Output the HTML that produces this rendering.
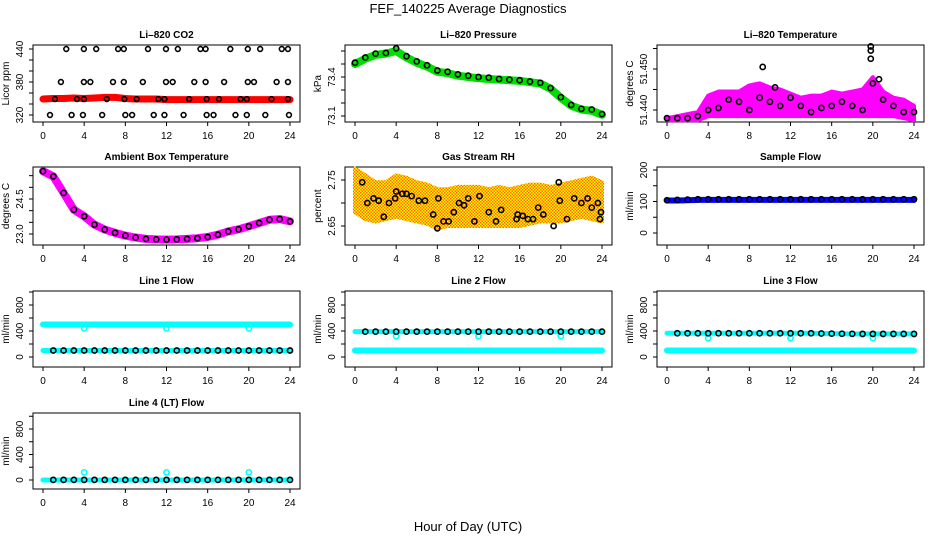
<!DOCTYPE html>
<html><head><meta charset="utf-8"><style>
body{margin:0;background:#fff}
svg text{font-family:"Liberation Sans",sans-serif;fill:#000}
</style></head><body>
<svg id="c" width="936" height="540" viewBox="0 0 936 540">
<defs>
<pattern id="rhpat" width="3" height="3" patternUnits="userSpaceOnUse"><rect width="3" height="3" fill="#ffff00"/><rect width="1.5" height="1.5" fill="#ff6a00"/><rect x="1.5" y="1.5" width="1.5" height="1.5" fill="#ff6a00"/></pattern>
</defs>
<text x="468" y="13" font-size="13" text-anchor="middle">FEF_140225  Average Diagnostics</text>
<text x="468" y="531" font-size="13" text-anchor="middle">Hour of Day (UTC)</text>
</svg>
<script>
const HOURS=[0,1,2,3,4,5,6,7,8,9,10,11,12,13,14,15,16,17,18,19,20,21,22,23,24];
const XTICKS=[0,4,8,12,16,20,24];
// CO2
const co2Red=[349,350,350,351,350,351,352,352,350,349,349,349,348,348,348,348,348,348,348,348,348,348,348,348,348];
const co2BlkH=[2.26,3.97,5.17,7.3,7.85,10.2,11.95,13.1,15.3,15.8,18.2,19.9,21.1,23.2,23.8,1.74,3.97,4.6,6.8,7.85,9.7,11.95,12.6,14.7,15.8,17.6,19.9,20.5,22.7,23.8,0.68,2.78,3.88,5.75,8.0,8.66,10.76,11.8,13.66,15.9,16.57,18.7,19.8,21.6,23.9,1.16,3.3,3.97,6.2,7.9,9.1,11.2,11.8,14.2,15.9,17.1,19.2,19.8,22.2,23.8];
const co2BlkV=[440,440,440,440,440,440,440,440,440,440,440,440,440,440,440,380,380,380,380,380,380,380,380,380,380,380,380,380,380,380,320,320,320,320,320,320,320,320,320,320,320,320,320,320,320,349,349,349,349,349,349,349,349,349,349,349,349,349,349,349];
// Pressure
const pressGreen=[73.50,73.54,73.57,73.58,73.60,73.55,73.51,73.48,73.44,73.43,73.41,73.40,73.39,73.385,73.38,73.375,73.37,73.36,73.35,73.31,73.24,73.18,73.15,73.14,73.11];
const pressBlack=[73.51,73.55,73.58,73.585,73.62,73.56,73.52,73.49,73.45,73.44,73.42,73.41,73.40,73.395,73.385,73.38,73.375,73.365,73.355,73.315,73.245,73.185,73.155,73.15,73.115];
// Li-820 temperature
const liLo=[51.4375,51.4375,51.4375,51.4375,51.4385,51.4385,51.4385,51.4385,51.4385,51.4385,51.4385,51.4385,51.4385,51.4385,51.4385,51.4385,51.4385,51.4385,51.4385,51.4385,51.4385,51.4385,51.4385,51.438,51.4375];
const liHi=[51.438,51.4385,51.439,51.4395,51.4435,51.4445,51.4445,51.4445,51.446,51.4465,51.4455,51.445,51.444,51.443,51.4435,51.4435,51.4445,51.444,51.4445,51.445,51.448,51.4445,51.443,51.4425,51.441];
const liBlack=[51.438,51.438,51.438,51.4385,51.440,51.4405,51.4425,51.442,51.440,51.443,51.442,51.441,51.443,51.441,51.4395,51.4405,51.441,51.442,51.441,51.440,51.4465,51.4425,51.441,51.4395,51.4395];
const liOutH=[19.8,19.8,19.8,20.6,9.3,10.5];
const liOutV=[51.4555,51.4545,51.4525,51.4475,51.4505,51.4455];
// Ambient
const ambient=[25.69,25.47,24.76,24.04,23.76,23.40,23.19,23.05,22.93,22.85,22.79,22.77,22.76,22.77,22.79,22.82,22.87,22.97,23.11,23.20,23.33,23.47,23.61,23.64,23.54];
// RH
const rhLo=[2.68,2.665,2.66,2.665,2.67,2.665,2.66,2.655,2.645,2.65,2.65,2.65,2.65,2.65,2.65,2.65,2.65,2.655,2.66,2.66,2.66,2.665,2.67,2.665,2.66];
const rhHi=[2.775,2.76,2.745,2.745,2.76,2.755,2.745,2.74,2.73,2.73,2.735,2.735,2.735,2.73,2.735,2.73,2.735,2.74,2.74,2.735,2.74,2.745,2.75,2.755,2.745];
const rhBlkH=[0.7,1.2,1.8,2.3,2.8,3.3,3.9,4.0,4.6,5.0,5.5,6.2,6.8,7.6,8.0,8.1,8.6,9.1,9.6,10.1,10.6,11.0,11.6,12.1,13.0,13.7,14.2,15.7,15.8,16.3,16.8,17.3,17.8,18.3,19.3,19.8,19.9,20.6,21.3,22.0,22.6,23.0,23.6,23.8,23.9];
const rhBlkV=[2.745,2.70,2.71,2.705,2.67,2.70,2.71,2.725,2.72,2.72,2.715,2.705,2.705,2.675,2.645,2.71,2.66,2.66,2.68,2.70,2.695,2.71,2.66,2.715,2.68,2.66,2.685,2.665,2.675,2.672,2.665,2.665,2.69,2.675,2.65,2.745,2.705,2.665,2.71,2.70,2.71,2.69,2.70,2.665,2.68];
// Sample flow
const sampleBlue=[103,103,104,105,105,105,105,105,105,105,105,105,105,105,105,105,105,105,105,105,105,105,105,105,105];
const sampleBlack=[104,105,106,107,107,107,107,107,107,107,107,107,107,107,107,107,107,107,107,107,107,107,107,107,107];
// Flows
const l1Cyan=[500,500,500,500,500,500,500,500,500,500,500,500,500,500,500,500,500,500,500,500,500,500,500,500,500];
const l1Black=[100,100,100,100,100,100,100,100,100,100,100,100,100,100,100,100,100,100,100,100,100,100,100,100,100];
const l2Cyan=[100,100,100,100,100,100,100,100,100,100,100,100,100,100,100,100,100,100,100,100,100,100,100,100,100];
const l2Black=[390,390,390,390,390,390,390,390,390,390,390,390,390,390,390,390,390,390,390,390,390,390,390,390,390];
const l3Cyan=[100,100,100,100,100,100,100,100,100,100,100,100,100,100,100,100,100,100,100,100,100,100,100,100,100];
const l3Black=[365,365,365,365,365,365,365,365,365,365,365,365,365,365,365,362,360,358,356,355,355,355,355,355,355];
const l4Cyan=[0,0,0,0,0,0,0,0,0,0,0,0,0,0,0,0,0,0,0,0,0,0,0,0,0];
const l4Black=[2,2,2,2,2,2,2,2,2,2,2,2,2,2,2,2,2,2,2,2,2,2,2,2,2];
const dipH=[4,12,20];
const l1Dip=[440,440,440];
const l2Dip=[320,320,320];
const l3Dip=[290,290,290];
const l4Dip=[120,120,120];

const svg=document.getElementById('c');
const NS='http://www.w3.org/2000/svg';
function mk(tag,attrs,parent){const e=document.createElementNS(NS,tag);for(const k in attrs)e.setAttribute(k,attrs[k]);(parent||svg).appendChild(e);return e;}

const COLS=[{l:33,r:300,x0:43,x24:290,yl:9,tl:23},{l:345,r:612,x0:355,x24:602,yl:321,tl:335},{l:657,r:924,x0:667,x24:914,yl:633,tl:647}];
const ROWS=[{t:45,b:122},{t:167,b:245},{t:291,b:367},{t:413,b:489}];

function panel(name,title,col,row,v0,p0,v1,p1,ticks,labels,ylab){
  const C=COLS[col],R=ROWS[row];
  const g=mk('g',{});
  
  
  const sx=h=>C.x0+(C.x24-C.x0)*h/24;
  const sy=v=>p0+(p1-p0)*(v-v0)/(v1-v0);
  const t=mk('text',{x:(C.l+C.r)/2,y:R.t-7,'font-size':10,'font-weight':'bold','text-anchor':'middle'},g);
  t.textContent=title;
  
  
  const box=mk('rect',{x:C.l,y:R.t,width:C.r-C.l,height:R.b-R.t,fill:'none',stroke:'#000','stroke-width':1},g);
  
  
  const xa=mk('g',{},g);
  
  
  XTICKS.forEach(h=>{
    mk('line',{x1:sx(h),x2:sx(h),y1:R.b,y2:R.b+4,stroke:'#000'},xa);
    const tx=mk('text',{x:sx(h),y:R.b+17,'font-size':10,'text-anchor':'middle'},xa);
    tx.textContent=h;
  });
  const ya=mk('g',{},g);
  
  
  ticks.forEach(v=>mk('line',{x1:C.l-4,x2:C.l,y1:sy(v),y2:sy(v),stroke:'#000'},ya));
  labels.forEach(v=>{
    const y=sy(parseFloat(v));
    const tx=mk('text',{x:C.tl,y:y,'font-size':10,'text-anchor':'middle',transform:`rotate(-90 ${C.tl} ${y})`},ya);
    tx.textContent=v;
  });
  const yl=mk('text',{x:C.yl,y:(R.t+R.b)/2,'font-size':10,'text-anchor':'middle',transform:`rotate(-90 ${C.yl} ${(R.t+R.b)/2})`},g);
  yl.textContent=ylab;
  
  
  return {g,sx,sy};
}
function band(P,vals,color,w,name){
  const pl=mk('polyline',{points:HOURS.map((h,i)=>P.sx(h)+','+P.sy(vals[i])).join(' '),fill:'none',stroke:color,'stroke-width':w,'stroke-linecap':'round','stroke-linejoin':'round'},P.g);
  
  
}
function area(P,lo,hi,fill,name){
  const pts=HOURS.map((h,i)=>P.sx(h)+','+P.sy(hi[i])).concat(HOURS.slice().reverse().map((h,j)=>P.sx(h)+','+P.sy(lo[HOURS.length-1-j])));
  const pg=mk('polygon',{points:pts.join(' '),fill:fill,stroke:fill,'stroke-width':4,'stroke-linejoin':'round'},P.g);
  
  
}
function pts(P,hs,vs,color,name,r){
  const g=mk('g',{},P.g);
  
  
  hs.forEach((h,i)=>{
    const c=mk('circle',{cx:P.sx(h),cy:P.sy(vs[i]),r:r||2.6,fill:'none',stroke:color,'stroke-width':1.6},g);
    
    
  });
}
const R10=[0,200,400,600,800,1000];
let P;
P=panel('co2-panel','Li\u2013820 CO2',0,0,320,115,440,49,[320,340,360,380,400,420,440],['320','380','440'],'Licor ppm');
band(P,co2Red,'#ff0000',7,'co2-red-series');pts(P,co2BlkH,co2BlkV,'#000','co2-black-series',2.4);
P=panel('pressure-panel','Li\u2013820 Pressure',1,0,73.1,116,73.6,51,[73.1,73.2,73.3,73.4,73.5,73.6],['73.1','73.4'],'kPa');
band(P,pressGreen,'#00e000',8,'pressure-green-series');pts(P,HOURS,pressBlack,'#000','pressure-black-series');
P=panel('li-temp-panel','Li\u2013820 Temperature',2,0,51.44,110,51.45,69,[51.44,51.445,51.45,51.455],['51.440','51.450'],'degrees C');
area(P,liLo,liHi,'#ff00ff','li-temp-magenta-series');pts(P,HOURS,liBlack,'#000','li-temp-black-series');pts(P,liOutH,liOutV,'#000','li-temp-outliers');
P=panel('ambient-panel','Ambient Box Temperature',0,1,23.0,234,24.5,199,[23,23.5,24,24.5,25,25.5],['23.0','24.5'],'degrees C');
band(P,ambient,'#ff00ff',8,'ambient-magenta-series');pts(P,HOURS,ambient,'#000','ambient-black-series');
P=panel('rh-panel','Gas Stream RH',1,1,2.65,226,2.75,180,[2.65,2.70,2.75],['2.65','2.75'],'percent');
area(P,rhLo,rhHi,'url(#rhpat)','rh-orange-series');pts(P,rhBlkH,rhBlkV,'#000','rh-black-series');
P=panel('sample-flow-panel','Sample Flow',2,1,0,233,200,170,[0,50,100,150,200],['0','100','200'],'ml/min');
band(P,sampleBlue,'#0000ff',6,'sample-blue-series');pts(P,HOURS,sampleBlack,'#000','sample-black-series');
P=panel('line1-panel','Line 1 Flow',0,2,0,357,800,305,R10,['0','400','800'],'ml/min');
band(P,l1Cyan,'#00ffff',6,'line1-cyan-series');pts(P,dipH,l1Dip,'#00ffff','line1-cyan-dips');band(P,l1Black,'#00ffff',5,'line1-cyan-low');pts(P,HOURS.slice(1),l1Black.slice(1),'#000','line1-black-series');
P=panel('line2-panel','Line 2 Flow',1,2,0,357,800,305,R10,['0','400','800'],'ml/min');
band(P,l2Cyan,'#00ffff',6,'line2-cyan-series');band(P,l2Black,'#00ffff',5,'line2-cyan-high');pts(P,dipH,l2Dip,'#00ffff','line2-cyan-dips');pts(P,HOURS.slice(1),l2Black.slice(1),'#000','line2-black-series');
P=panel('line3-panel','Line 3 Flow',2,2,0,357,800,305,R10,['0','400','800'],'ml/min');
band(P,l3Cyan,'#00ffff',6,'line3-cyan-series');band(P,l3Black,'#00ffff',5,'line3-cyan-high');pts(P,dipH,l3Dip,'#00ffff','line3-cyan-dips');pts(P,HOURS.slice(1),l3Black.slice(1),'#000','line3-black-series');
P=panel('line4-panel','Line 4 (LT) Flow',0,3,0,480,800,429,R10,['0','400','800'],'ml/min');
band(P,l4Cyan,'#00ffff',5,'line4-cyan-series');pts(P,dipH,l4Dip,'#00ffff','line4-cyan-dips');pts(P,HOURS.slice(1),l4Black.slice(1),'#000','line4-black-series');
</script>
</body></html>
